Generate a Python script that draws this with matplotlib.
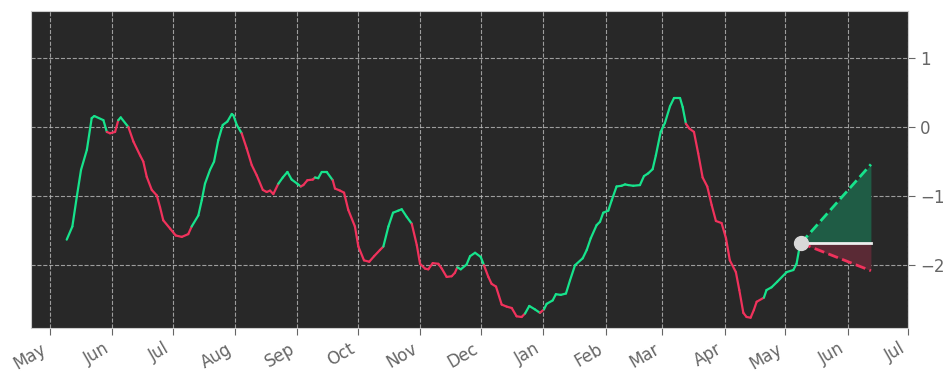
import numpy as np
import matplotlib
matplotlib.use("Agg")
import matplotlib.pyplot as plt
import matplotlib.dates as mdates
from matplotlib.collections import LineCollection
from datetime import datetime

# days since 2022-05-01 and the indicator value
days = [8.5, 11.3, 13.5, 15.6, 18.5, 20.9, 22.2, 26.7, 28.4, 30.0, 32.5, 34.1, 35.3, 39.1,
        41.6, 44.9, 46.5, 48.2, 50.7, 53.2, 54.8, 56.4, 59.8, 62.6, 65.6, 68.8, 70.5, 73.8,
        75.5, 77.1, 79.6, 81.6, 83.7, 85.9, 88.2, 90.4, 91.2, 92.9, 95.3, 97.8, 100.3, 102.8,
        105.8, 107.7, 109.4, 111.0, 113.5, 115.7, 118.0, 120.1, 122.9, 124.6, 125.9, 127.9,
        130.6, 131.7, 133.3, 135.0, 137.5, 140.5, 141.6, 144.1, 146.1, 148.2, 151.5, 153.2,
        156.0, 158.6, 161.0, 163.9, 165.6, 168.1, 170.4, 173.0, 174.7, 177.2, 179.7, 182.2,
        183.8, 186.3, 187.9, 190.1, 192.9, 194.6, 197.0, 199.5, 201.1, 202.3, 204.0, 206.9,
        208.6, 211.1, 213.9, 215.5, 217.7, 219.3, 221.5, 224.3, 226.8, 229.3, 231.7, 234.2,
        235.9, 238.0, 240.8, 243.3, 245.3, 246.6, 249.6, 251.2, 253.6, 256.2, 258.2, 260.7,
        264.5, 266.5, 268.5, 271.4, 273.1, 274.7, 277.2, 278.9, 281.3, 283.8, 285.5, 287.1,
        289.6, 292.9, 294.9, 297.0, 299.2, 300.8, 303.2, 305.3, 307.8, 309.8, 312.8, 314.1,
        315.7, 317.4, 319.7, 321.8, 324.0, 326.3, 328.5, 330.6, 333.4, 335.6, 337.5, 340.5,
        342.2, 344.2, 345.8, 347.8, 349.4, 350.8, 354.4, 355.7, 358.2, 361.0, 365.7, 369.0,
        370.6, 371.9, 372.8]
values = [-1.63, -1.44, -1.01, -0.62, -0.33, 0.13, 0.16, 0.10, -0.07, -0.09, -0.07, 0.10, 0.14, 0.00,
          -0.21, -0.41, -0.50, -0.72, -0.91, -0.99, -1.16, -1.35, -1.47, -1.57, -1.59, -1.55, -1.44, -1.28,
          -1.06, -0.82, -0.62, -0.50, -0.19, 0.03, 0.08, 0.19, 0.17, 0.03, -0.09, -0.31, -0.55, -0.70,
          -0.91, -0.94, -0.92, -0.97, -0.82, -0.73, -0.65, -0.76, -0.82, -0.86, -0.84, -0.77,
          -0.76, -0.73, -0.74, -0.65, -0.65, -0.77, -0.89, -0.92, -0.95, -1.20, -1.44, -1.73,
          -1.93, -1.95, -1.87, -1.78, -1.73, -1.44, -1.24, -1.21, -1.19, -1.30, -1.40, -1.71,
          -1.98, -2.05, -2.06, -1.97, -1.98, -2.05, -2.17, -2.16, -2.11, -2.03, -2.06, -1.99,
          -1.87, -1.82, -1.88, -2.00, -2.17, -2.27, -2.31, -2.57, -2.60, -2.62, -2.74, -2.75,
          -2.70, -2.59, -2.64, -2.69, -2.64, -2.56, -2.51, -2.42, -2.43, -2.41, -2.22, -2.00,
          -1.90, -1.78, -1.61, -1.42, -1.37, -1.24, -1.21, -1.06, -0.86, -0.85, -0.83, -0.84,
          -0.85, -0.84, -0.71, -0.67, -0.61, -0.41, -0.07, 0.06, 0.30, 0.42, 0.42, 0.29,
          0.05, -0.02, -0.07, -0.38, -0.73, -0.86, -1.13, -1.36, -1.39, -1.61, -1.93, -2.10,
          -2.36, -2.69, -2.75, -2.76, -2.65, -2.53, -2.47, -2.36, -2.32, -2.24, -2.10, -2.07,
          -1.98, -1.77, -1.68]

# stretches (days since 2022-05-01) where the line is drawn red
red_spans = [(29.2, 34.1), (39.1, 70.0), (95.3, 113.5), (124.6, 131.7), (140.5, 165.6),
             (179.7, 202.3), (215.5, 236.7), (243.3, 245.3), (315.7, 354.4)]

forecast_days = [372.8, 407.5]
forecast_mid = [-1.68, -1.68]
forecast_high = [-1.68, -0.54]
forecast_low = [-1.68, -2.08]

GREEN = "#17e38c"
RED = "#f0325c"

start = mdates.date2num(datetime(2022, 5, 1))
x = start + np.array(days)
y = np.array(values)
fx = start + np.array(forecast_days)

fig = plt.figure(figsize=(9.52, 3.81), dpi=100)
ax = fig.add_axes([0.0326, 0.139, 0.9214, 0.832])
ax.set_facecolor("#282828")

pts = np.column_stack([x, y])
segs = np.stack([pts[:-1], pts[1:]], axis=1)
mids = (np.array(days[:-1]) + np.array(days[1:])) / 2
cols = [RED if any(a <= m <= b for a, b in red_spans) else GREEN for m in mids]
ax.add_collection(LineCollection(segs, colors=cols, linewidth=1.6, capstyle="round", zorder=3))

ax.fill_between(fx, forecast_mid, forecast_high, color="#1f5c45", linewidth=0, zorder=2)
ax.fill_between(fx, forecast_low, forecast_mid, color="#5a2a35", linewidth=0, zorder=2)
ax.plot(fx, forecast_high, "--", color=GREEN, lw=2, zorder=3)
ax.plot(fx, forecast_low, "--", color=RED, lw=2, zorder=3)
ax.plot(fx, forecast_mid, "-", color="#eeeeee", lw=2, zorder=3)
ax.plot(fx[0], forecast_mid[0], "o", color="#d8d8d8", ms=10, zorder=4)

ax.set_xlim(start - 9.2, mdates.date2num(datetime(2023, 7, 1)))
ax.set_ylim(-2.91, 1.68)
ax.xaxis.set_major_locator(mdates.MonthLocator())
ax.xaxis.set_major_formatter(mdates.DateFormatter("%b"))
ax.set_yticks([-2, -1, 0, 1])
ax.yaxis.tick_right()
ax.grid(True, color="#bbbbbb", linestyle="--", linewidth=0.8, alpha=0.8)
ax.set_axisbelow(True)
for s in ax.spines.values():
    s.set_color("#cccccc")
ax.tick_params(colors="#666666", labelsize=12, length=5)
plt.setp(ax.get_xticklabels(), rotation=30, ha="right")

fig.savefig("out.png", dpi=100, facecolor="white")
